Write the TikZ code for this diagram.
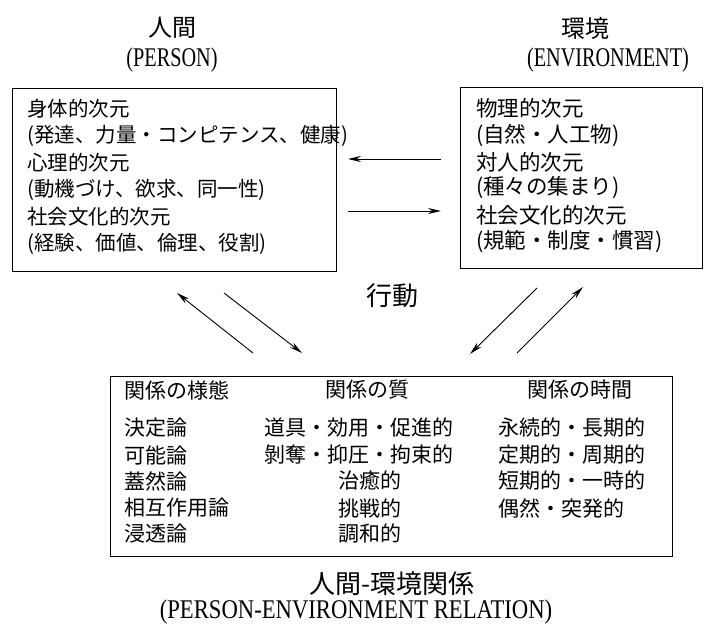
\documentclass[tikz,border=0pt]{standalone}
\usepackage{fontspec}
\usepackage{graphicx}
\setmainfont{Liberation Serif}
\newfontfamily\jp{Noto Sans CJK JP}
\usetikzlibrary{arrows.meta}
\newcommand\cond[1]{\scalebox{0.75}[1]{#1}}
\newcommand\condw[1]{\scalebox{0.84}[1]{#1}}
\tikzset{
  frame/.style={draw, line width=1.1pt, inner sep=0pt, anchor=north west},
  ltxt/.style={anchor=west, inner sep=0pt, font=\jp\fontsize{20.5}{24}\selectfont},
  rtxt/.style={anchor=west, inner sep=0pt, font=\jp\fontsize{21.5}{24}\selectfont},
  btxt/.style={anchor=west, inner sep=0pt, font=\jp\fontsize{21}{24}\selectfont},
  bhead/.style={inner sep=0pt, font=\jp\fontsize{21}{24}\selectfont},
  jtitle/.style={inner sep=0pt, font=\jp\fontsize{24}{28}\selectfont},
  etitle/.style={inner sep=0pt, font=\fontsize{27}{30}\selectfont},
  arr/.style={line width=0.9pt, -{Stealth[length=13pt,width=6pt]}}
}
\begin{document}
\begin{tikzpicture}[x=1pt,y=-1pt]
\useasboundingbox (0,0) rectangle (704,629);
% titles
\node[jtitle] (tp) at (172,28) {人間};
\node[etitle] (tpe) at (172,60) {\cond{(PERSON)}};
\node[jtitle] (te) at (585,28) {環境};
\node[etitle] (tee) at (608,60) {\cond{(ENVIRONMENT)}};
% boxes
\node[frame, minimum width=324pt, minimum height=183pt] (pbox) at (12,88) {};
\node[frame, minimum width=242pt, minimum height=181pt] (ebox) at (460,87) {};
\node[frame, minimum width=562pt, minimum height=180pt] (rbox) at (110,376) {};
% person box text
\node[ltxt] (p1) at (27,109) {身体的次元};
\node[ltxt] (p2) at (27,136) {(発達、力量・コンピテンス、健康)};
\node[ltxt] (p3) at (27,163) {心理的次元};
\node[ltxt] (p4) at (27,190) {(動機づけ、欲求、同一性)};
\node[ltxt] (p5) at (27,217) {社会文化的次元};
\node[ltxt] (p6) at (27,244) {(経験、価値、倫理、役割)};
% environment box text
\node[rtxt] (e1) at (476,108) {物理的次元};
\node[rtxt] (e2) at (476,135) {(自然・人工物)};
\node[rtxt] (e3) at (476,162) {対人的次元};
\node[rtxt] (e4) at (476,188) {(種々の集まり)};
\node[rtxt] (e5) at (476,215) {社会文化的次元};
\node[rtxt] (e6) at (476,242) {(規範・制度・慣習)};
% relation box headers
\node[btxt] (h1) at (124,390) {関係の様態};
\node[bhead] (h2) at (367,390) {関係の質};
\node[bhead] (h3) at (580,390) {関係の時間};
% column 1
\node[btxt] (a1) at (124,428) {決定論};
\node[btxt] (a2) at (124,455) {可能論};
\node[btxt] (a3) at (124,481) {蓋然論};
\node[btxt] (a4) at (124,508) {相互作用論};
\node[btxt] (a5) at (124,534) {浸透論};
% column 2
\node[btxt] (b1) at (264,428) {道具・効用・促進的};
\node[btxt] (b2) at (264,455) {剝奪・抑圧・拘束的};
\node[btxt] (b3) at (338,481) {治癒的};
\node[btxt] (b4) at (338,508) {挑戦的};
\node[btxt] (b5) at (338,534) {調和的};
% column 3
\node[btxt] (c1) at (498,428) {永続的・長期的};
\node[btxt] (c2) at (498,455) {定期的・周期的};
\node[btxt] (c3) at (498,481) {短期的・一時的};
\node[btxt] (c4) at (498,508) {偶然・突発的};
% middle label
\node[inner sep=0pt, font=\jp\fontsize{26}{30}\selectfont] (act) at (392,296) {行動};
% bottom title
\node[inner sep=0pt, font=\jp\fontsize{26}{30}\selectfont] (tr) at (392,584) {人間-環境関係};
\node[etitle] (tre) at (356,612) {\condw{(PERSON-ENVIRONMENT RELATION)}};
% arrow end points
\coordinate (hl1) at (441,159); \coordinate (hl2) at (348,159);
\coordinate (hr1) at (348,211); \coordinate (hr2) at (441,211);
\coordinate (d1a) at (253,353); \coordinate (d1b) at (177,293);
\coordinate (d2a) at (224,293); \coordinate (d2b) at (302,353);
\coordinate (d3a) at (537,288); \coordinate (d3b) at (470,354);
\coordinate (d4a) at (517,353); \coordinate (d4b) at (583,287);
\draw[arr] (hl1) -- (hl2);
\draw[arr] (hr1) -- (hr2);
\draw[arr] (d1a) -- (d1b);
\draw[arr] (d2a) -- (d2b);
\draw[arr] (d3a) -- (d3b);
\draw[arr] (d4a) -- (d4b);
\end{tikzpicture}
\end{document}
